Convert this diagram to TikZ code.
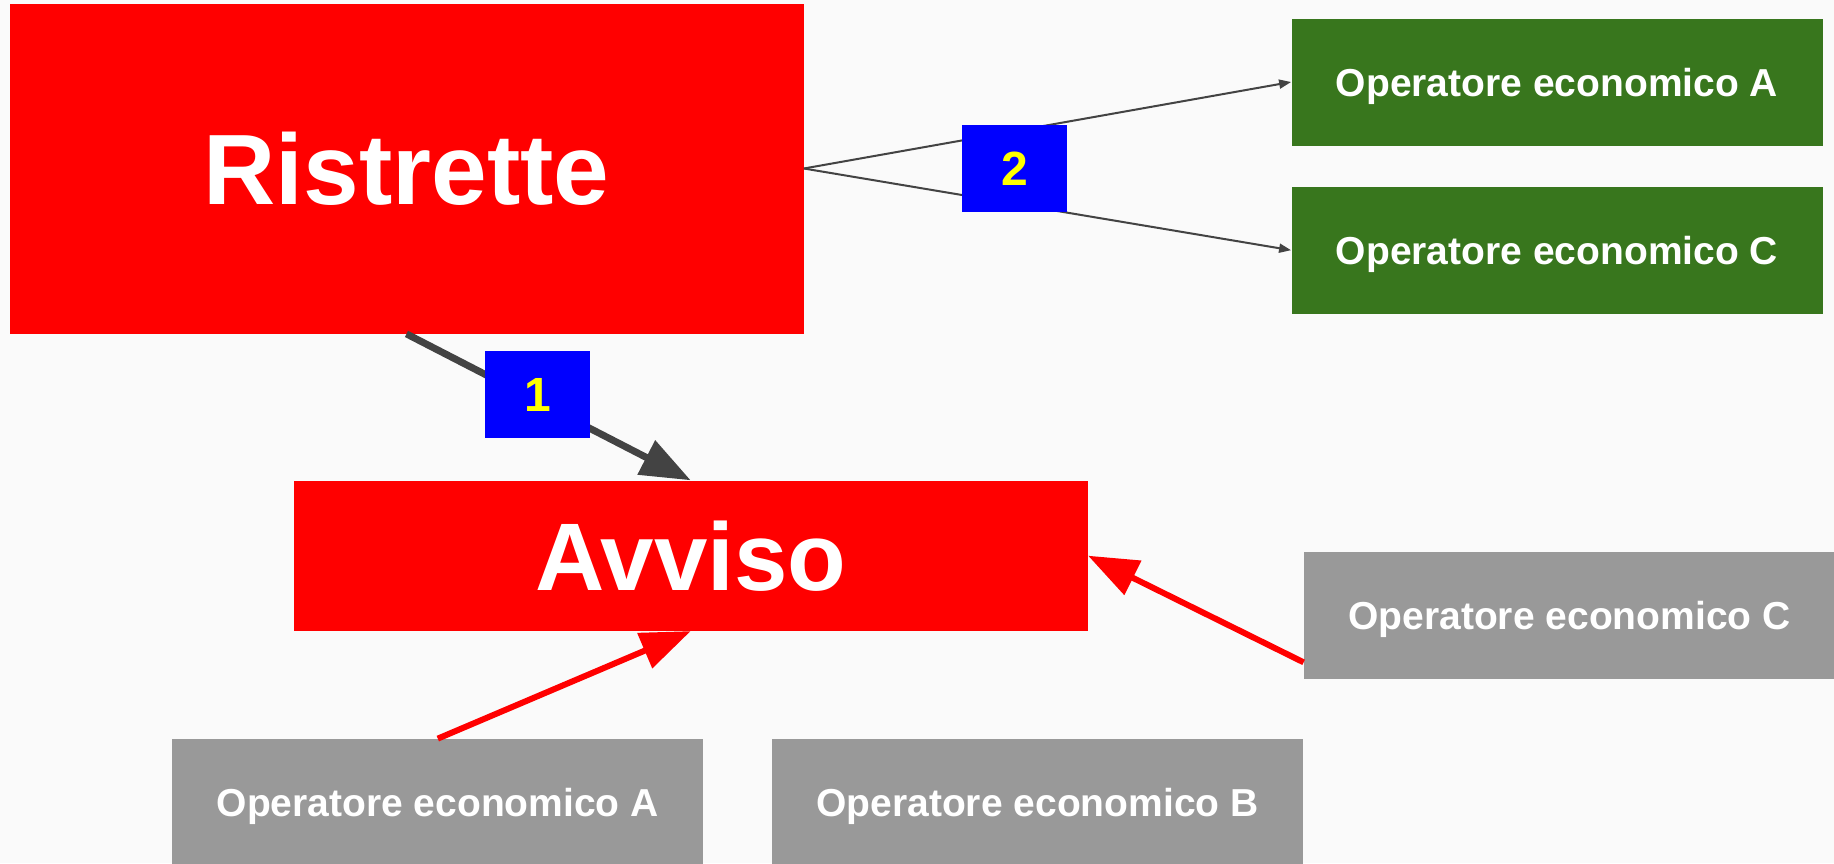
\documentclass[tikz,border=0pt]{standalone}
\usepackage{fontspec}
\setmainfont{Liberation Sans}
\usetikzlibrary{arrows.meta}

\definecolor{bgcol}{HTML}{FAFAFA}
\definecolor{boxred}{HTML}{FF0000}
\definecolor{boxgreen}{HTML}{38761D}
\definecolor{boxgray}{HTML}{999999}
\definecolor{numblue}{HTML}{0000FF}
\definecolor{numyellow}{HTML}{FFFF00}
\definecolor{linkgray}{HTML}{434343}

\tikzset{
  bigbox/.style={fill=boxred, text=white, inner sep=0pt, minimum width=397pt, font=\bfseries},
  opbox/.style={fill=#1, text=white, inner sep=0pt, minimum width=265.5pt, minimum height=63.5pt, text height=14pt, text depth=0pt, font=\fontsize{19.5}{22}\selectfont\bfseries},
  numbox/.style={fill=numblue, text=numyellow, inner sep=0pt, minimum width=52.5pt, minimum height=43.5pt, font=\fontsize{24}{28}\selectfont\bfseries},
  bigarrow/.style={line width=#1, -{Triangle[length=25pt,width=18.5pt]}},
  thinarrow/.style={linkgray, line width=1pt, -{Triangle[length=6pt,width=4.5pt]}}
}

\begin{document}
\begin{tikzpicture}[x=0.5pt,y=0.5pt,yscale=-1]
%set diagram size: 1834 x 863
\useasboundingbox (0,0) rectangle (1834,863);
\clip (0,0) rectangle (1834,863);
\fill [bgcol] (0,0) rectangle (1834,863);

%Shape: Rectangle [Ristrette]
\node [bigbox, minimum height=165pt, font=\fontsize{50}{56}\selectfont\bfseries] (ristrette) at (406.5,168.5) {Ristrette};
%Shape: Rectangle [Avviso]
\node [bigbox, minimum height=75pt, font=\fontsize{48}{54}\selectfont\bfseries] (avviso) at (690.7,555.7) {Avviso};

%Shape: Rectangle [green operators]
\node [opbox=boxgreen] (opA) at (1557,82) {Operatore economico A};
\node [opbox=boxgreen] (opC) at (1557,250.2) {Operatore economico C};
%Shape: Rectangle [gray operators]
\node [opbox=boxgray] (grayC) at (1569.5,615.3) {Operatore economico C};
\node [opbox=boxgray] (grayA) at (437.8,802.5) {Operatore economico A};
\node [opbox=boxgray] (grayB) at (1037.5,802.5) {Operatore economico B};

%Straight Lines [connectors]
\coordinate (grayCfoot) at ([yshift=23.5pt]grayC.west);
\draw [bigarrow=3.5pt, linkgray] (ristrette.south) -- (avviso.north);
\draw [thinarrow] (ristrette.east) -- (opA.west);
\draw [thinarrow] (ristrette.east) -- (opC.west);
\draw [bigarrow=3pt, boxred] (grayCfoot) -- (avviso.east);
\draw [bigarrow=3pt, boxred] (grayA.north) -- (avviso.south);

% Text Node [step numbers]
\node [numbox] (num1) at (537.5,394.5) {1};
\node [numbox] (num2) at (1014.5,168.3) {2};

\end{tikzpicture}
\end{document}
